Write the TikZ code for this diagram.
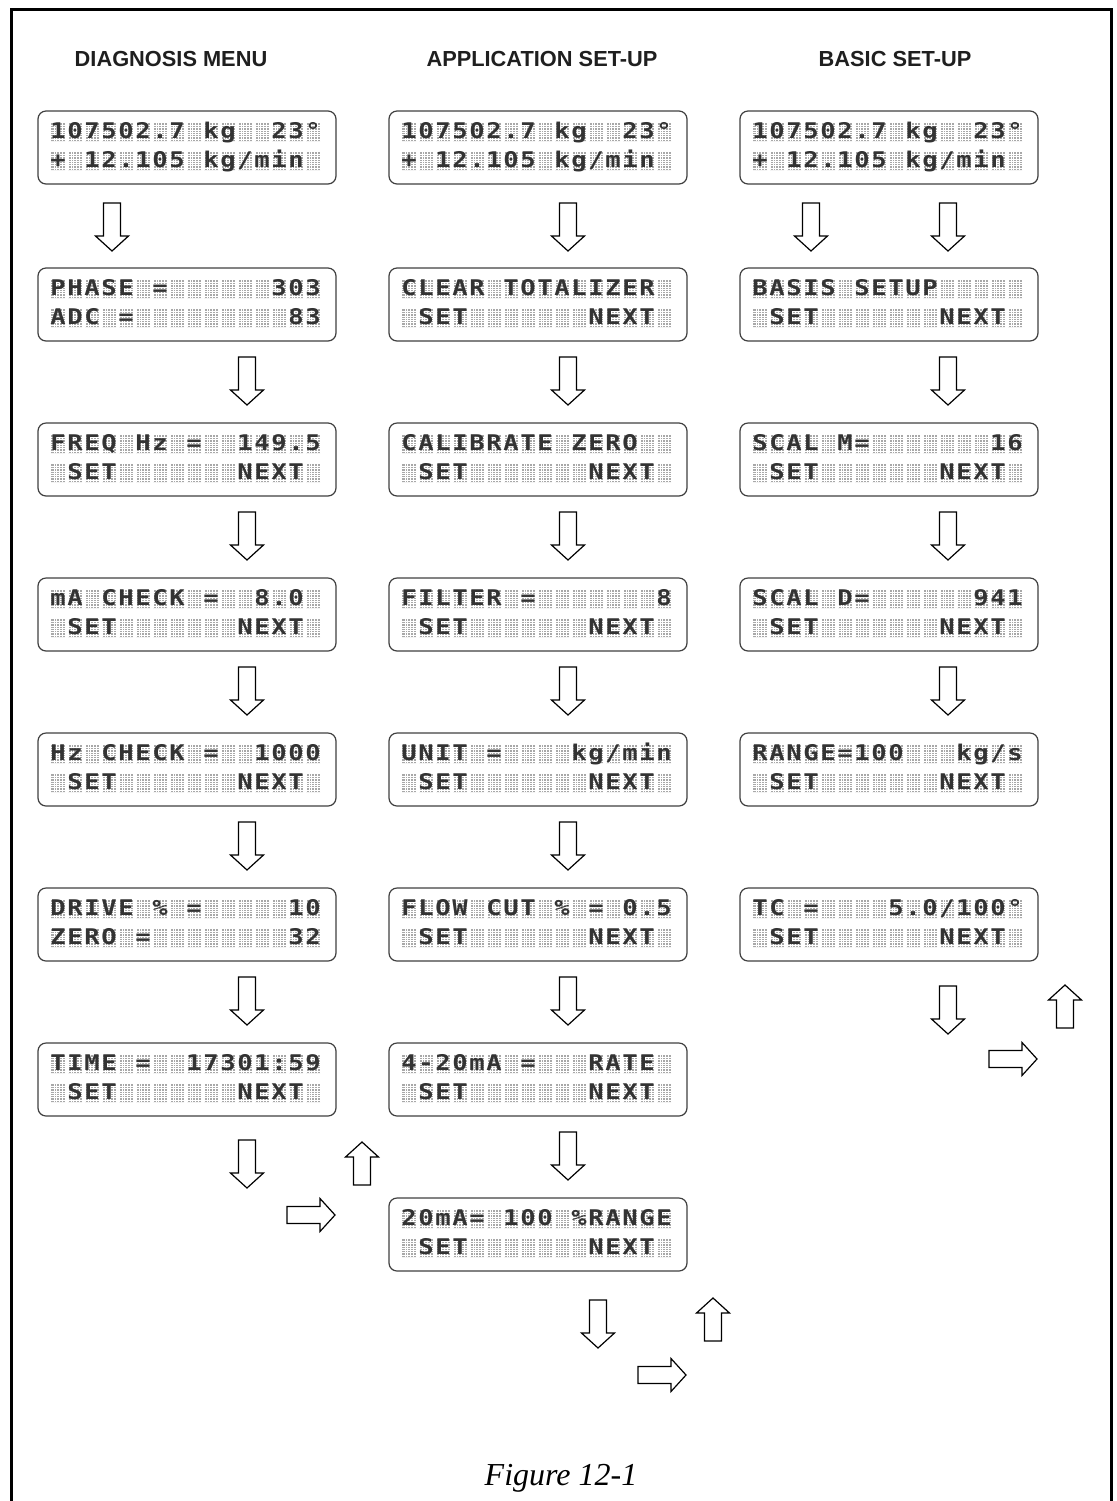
\documentclass[tikz,border=0pt]{standalone}
\usepackage{fontspec}
\setmainfont{Liberation Serif}
\newfontfamily\hdrfont{Liberation Sans}
\newfontfamily\lcdfont{DejaVu Sans Mono}
\newcommand\lcdrow[3]{%
  \fill[cellbg] foreach \i in {0,...,15} {(13+17*\i,#2) rectangle ++(14.17,18)};
  \draw[dotgrid] foreach \k in {1,...,95} {(13+\k*17/6,#2) -- ++(0,18)}
                 foreach \j in {1,...,7} {(13,#2+\j*2.25) -- ++(272.17,0)};
  \foreach \ch [count=\i from 0] in {#3} {\node[lcdchar] (#1-#2-\i) at (20.08+17*\i,#2+15.75) {\ch};}
}
\newcommand\lcdpanel[5]{%
  \node[lcd] (#1) at (#2,#3) {};
  \begin{scope}[shift={(#1.north west)}]
    \lcdrow{#1}{12}{#4}
    \lcdrow{#1}{41}{#5}
  \end{scope}}
\begin{document}
\begin{tikzpicture}[x=0.5pt,y=-0.5pt,
  lcd/.style={draw=black!75, line width=0.6pt, rounded corners=4pt, minimum width=149pt,
    minimum height=36.5pt, inner sep=0pt, outer sep=0pt, fill=white},
  cellbg/.style={fill=black!34},
  dotgrid/.style={draw=white, line width=0.25pt},
  lcdchar/.style={anchor=base, inner sep=0pt, outer sep=0pt, text=black!80, xscale=1.18,
    font=\lcdfont\bfseries\fontsize{10.8}{10.8}\selectfont},
  header/.style={font=\hdrfont\bfseries\fontsize{10.9}{13}\selectfont, text=black!88, inner sep=0pt},
  barrow/.style={draw=black, line width=0.6pt, fill=white, line join=miter},
  pics/barr/.style={code={\draw[barrow] (0,-8.5) -- (#1-15,-8.5) -- (#1-15,-16.5) -- (#1,0)
      -- (#1-15,16.5) -- (#1-15,8.5) -- (0,8.5) -- cycle;}}
]
\useasboundingbox (0,0) rectangle (1117,1501);
% frame
\draw[line width=1.5pt] (11,1501) -- (11,9) -- (1111,9) -- (1111,1501);

% headers
\node[header] (h1) at (171,58.5) {DIAGNOSIS MENU};
\node[header] (h2) at (542,58.5) {APPLICATION SET-UP};
\node[header] (h3) at (895,58.5) {BASIC SET-UP};

% left column
\lcdpanel{L0}{187}{147.5}{1,0,7,5,0,2,.,7, ,k,g, , ,2,3,°}{+, ,1,2,.,1,0,5, ,k,g,/,m,i,n, }
\lcdpanel{L1}{187}{304.5}{P,H,A,S,E, ,=, , , , , , ,3,0,3}{A,D,C, ,=, , , , , , , , , ,8,3}
\lcdpanel{L2}{187}{459.5}{F,R,E,Q, ,H,z, ,=, , ,1,4,9,.,5}{ ,S,E,T, , , , , , , ,N,E,X,T, }
\lcdpanel{L3}{187}{614.5}{m,A, ,C,H,E,C,K, ,=, , ,8,.,0, }{ ,S,E,T, , , , , , , ,N,E,X,T, }
\lcdpanel{L4}{187}{769.5}{H,z, ,C,H,E,C,K, ,=, , ,1,0,0,0}{ ,S,E,T, , , , , , , ,N,E,X,T, }
\lcdpanel{L5}{187}{924.5}{D,R,I,V,E, ,\%, ,=, , , , , ,1,0}{Z,E,R,O, ,=, , , , , , , , ,3,2}
\lcdpanel{L6}{187}{1079.5}{T,I,M,E, ,=, , ,1,7,3,0,1,:,5,9}{ ,S,E,T, , , , , , , ,N,E,X,T, }

% middle column
\lcdpanel{M0}{538}{147.5}{1,0,7,5,0,2,.,7, ,k,g, , ,2,3,°}{+, ,1,2,.,1,0,5, ,k,g,/,m,i,n, }
\lcdpanel{M1}{538}{304.5}{C,L,E,A,R, ,T,O,T,A,L,I,Z,E,R, }{ ,S,E,T, , , , , , , ,N,E,X,T, }
\lcdpanel{M2}{538}{459.5}{C,A,L,I,B,R,A,T,E, ,Z,E,R,O, , }{ ,S,E,T, , , , , , , ,N,E,X,T, }
\lcdpanel{M3}{538}{614.5}{F,I,L,T,E,R, ,=, , , , , , , ,8}{ ,S,E,T, , , , , , , ,N,E,X,T, }
\lcdpanel{M4}{538}{769.5}{U,N,I,T, ,=, , , , ,k,g,/,m,i,n}{ ,S,E,T, , , , , , , ,N,E,X,T, }
\lcdpanel{M5}{538}{924.5}{F,L,O,W, ,C,U,T, ,\%, ,=, ,0,.,5}{ ,S,E,T, , , , , , , ,N,E,X,T, }
\lcdpanel{M6}{538}{1079.5}{4,-,2,0,m,A, ,=, , , ,R,A,T,E, }{ ,S,E,T, , , , , , , ,N,E,X,T, }
\lcdpanel{M7}{538}{1234.5}{2,0,m,A,=, ,1,0,0, ,\%,R,A,N,G,E}{ ,S,E,T, , , , , , , ,N,E,X,T, }

% right column
\lcdpanel{R0}{889}{147.5}{1,0,7,5,0,2,.,7, ,k,g, , ,2,3,°}{+, ,1,2,.,1,0,5, ,k,g,/,m,i,n, }
\lcdpanel{R1}{889}{304.5}{B,A,S,I,S, ,S,E,T,U,P, , , , , }{ ,S,E,T, , , , , , , ,N,E,X,T, }
\lcdpanel{R2}{889}{459.5}{S,C,A,L, ,M,=, , , , , , , ,1,6}{ ,S,E,T, , , , , , , ,N,E,X,T, }
\lcdpanel{R3}{889}{614.5}{S,C,A,L, ,D,=, , , , , , ,9,4,1}{ ,S,E,T, , , , , , , ,N,E,X,T, }
\lcdpanel{R4}{889}{769.5}{R,A,N,G,E,=,1,0,0, , , ,k,g,/,s}{ ,S,E,T, , , , , , , ,N,E,X,T, }
\lcdpanel{R5}{889}{924.5}{T,C, ,=, , , , ,5,.,0,/,1,0,0,°}{ ,S,E,T, , , , , , , ,N,E,X,T, }

% arrows left
\pic[rotate=-90] (la0) at (112,203) {barr=48};
\pic[rotate=-90] (la1) at (247,357) {barr=48};
\pic[rotate=-90] (la2) at (247,512) {barr=48};
\pic[rotate=-90] (la3) at (247,667) {barr=48};
\pic[rotate=-90] (la4) at (247,822) {barr=48};
\pic[rotate=-90] (la5) at (247,977) {barr=48};
\pic[rotate=-90] (la6) at (247,1140) {barr=48};
\pic (lar) at (287,1215) {barr=48};
\pic[rotate=90] (lau) at (362,1185) {barr=43};

% arrows middle
\pic[rotate=-90] (ma0) at (568,203) {barr=48};
\pic[rotate=-90] (ma1) at (568,357) {barr=48};
\pic[rotate=-90] (ma2) at (568,512) {barr=48};
\pic[rotate=-90] (ma3) at (568,667) {barr=48};
\pic[rotate=-90] (ma4) at (568,822) {barr=48};
\pic[rotate=-90] (ma5) at (568,977) {barr=48};
\pic[rotate=-90] (ma6) at (568,1132) {barr=48};
\pic[rotate=-90] (ma7) at (598,1300) {barr=48};
\pic (mar) at (638,1375) {barr=48};
\pic[rotate=90] (mau) at (713,1341) {barr=43};

% arrows right
\pic[rotate=-90] (ra0a) at (811,203) {barr=48};
\pic[rotate=-90] (ra0b) at (948,203) {barr=48};
\pic[rotate=-90] (ra1) at (948,357) {barr=48};
\pic[rotate=-90] (ra2) at (948,512) {barr=48};
\pic[rotate=-90] (ra3) at (948,667) {barr=48};
\pic[rotate=-90] (ra5) at (948,986) {barr=48};
\pic (rar) at (989,1059) {barr=48};
\pic[rotate=90] (rau) at (1065,1028) {barr=43};

% caption
\node[anchor=base, inner sep=0pt, font=\itshape\fontsize{16}{19}\selectfont] (cap) at (561,1485) {Figure 12-1};
\end{tikzpicture}
\end{document}
